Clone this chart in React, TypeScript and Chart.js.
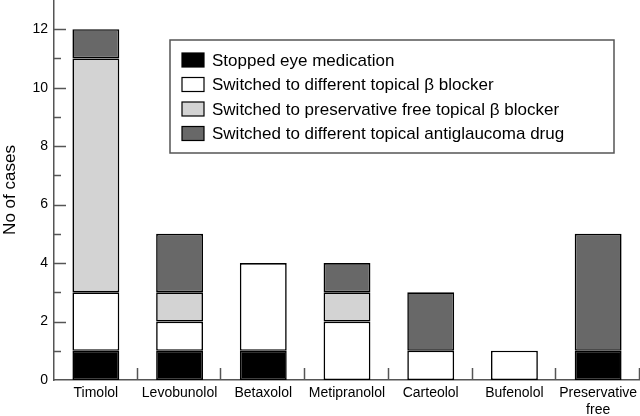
import React, { useEffect, useRef } from "react";
import { Chart, registerables } from "chart.js";

Chart.register(...registerables);

const categories: (string | string[])[] = [
  "Timolol",
  "Levobunolol",
  "Betaxolol",
  "Metipranolol",
  "Carteolol",
  "Bufenolol",
  ["Preservative", "free"],
];

const stoppedMedication = [1, 1, 1, 0, 0, 0, 1];
const switchedDifferentBeta = [2, 1, 3, 2, 1, 1, 0];
const switchedPreservativeFree = [8, 1, 0, 1, 0, 0, 0];
const switchedAntiglaucoma = [1, 2, 0, 1, 2, 0, 4];

const seriesLabels = [
  "Stopped eye medication",
  "Switched to different topical β blocker",
  "Switched to preservative free topical β blocker",
  "Switched to different topical antiglaucoma drug",
];
const seriesColors = ["#000000", "#ffffff", "#d3d3d3", "#686868"];

const yAxisTitle = "No of cases";
const yMin = 0;
const yMax = 13;
const yLabelledTicks = [0, 2, 4, 6, 8, 10, 12];

const FONT = "'Liberation Sans', Arial, Helvetica, sans-serif";
const AXIS_COLOR = "#555555";

const innerTicksPlugin = {
  id: "innerTicks",
  afterDraw(chart: any) {
    const { ctx, chartArea, scales } = chart;
    const y = scales.y;
    const x = scales.x;
    ctx.save();
    ctx.strokeStyle = AXIS_COLOR;
    ctx.lineWidth = 1.5;
    for (let v = yMin + 1; v < yMax; v++) {
      const py = Math.round(y.getPixelForValue(v)) + 0.5;
      const len = yLabelledTicks.includes(v) ? 12 : 7;
      ctx.beginPath();
      ctx.moveTo(chartArea.left, py);
      ctx.lineTo(chartArea.left + len, py);
      ctx.stroke();
    }
    const step = x.getPixelForValue(1) - x.getPixelForValue(0);
    for (let i = 0; i < categories.length; i++) {
      const px = Math.round(x.getPixelForValue(i) + step / 2) - 0.5;
      ctx.beginPath();
      ctx.moveTo(px, chartArea.bottom);
      ctx.lineTo(px, chartArea.bottom - 12);
      ctx.stroke();
    }
    ctx.restore();
  },
};

const boxLegendPlugin = {
  id: "boxLegend",
  afterDraw(chart: any, _args: any, opts: any) {
    const { ctx } = chart;
    const { left, top, width, height, rowStart, rowGap, swatchX, swatchW, swatchH, textX } = opts;
    ctx.save();
    ctx.fillStyle = "#ffffff";
    ctx.fillRect(left, top, width, height);
    ctx.strokeStyle = AXIS_COLOR;
    ctx.lineWidth = 1.5;
    ctx.strokeRect(left, top, width, height);
    ctx.font = `17px ${FONT}`;
    ctx.textBaseline = "middle";
    chart.data.datasets.forEach((ds: any, i: number) => {
      const cy = rowStart + i * rowGap;
      ctx.fillStyle = ds.backgroundColor;
      ctx.fillRect(swatchX, cy - swatchH / 2, swatchW, swatchH);
      ctx.strokeStyle = "#000000";
      ctx.lineWidth = 1.2;
      ctx.strokeRect(swatchX, cy - swatchH / 2, swatchW, swatchH);
      ctx.fillStyle = "#000000";
      ctx.fillText(ds.label, textX, cy + 1);
    });
    ctx.restore();
  },
};

export default function App() {
  const canvasRef = useRef<HTMLCanvasElement | null>(null);

  useEffect(() => {
    document.body.style.margin = "0";
    const canvas = canvasRef.current;
    if (!canvas) return;
    const seriesData = [
      stoppedMedication,
      switchedDifferentBeta,
      switchedPreservativeFree,
      switchedAntiglaucoma,
    ];
    const chart = new Chart(canvas, {
      type: "bar",
      data: {
        labels: categories as any,
        datasets: seriesData.map((d, i) => ({
          label: seriesLabels[i],
          data: d,
          backgroundColor: seriesColors[i],
          borderColor: "#000000",
          borderWidth: 1.6,
          borderSkipped: false,
          categoryPercentage: 1,
          barPercentage: 0.56,
        })),
      },
      options: {
        animation: false,
        responsive: false,
        maintainAspectRatio: false,
        devicePixelRatio: 1,
        layout: { padding: { left: 0, right: 0, top: 0, bottom: 0 } },
        plugins: {
          legend: { display: false },
          tooltip: { enabled: false },
          boxLegend: {
            left: 170,
            top: 40,
            width: 444,
            height: 113,
            rowStart: 60,
            rowGap: 24.5,
            swatchX: 182,
            swatchW: 22,
            swatchH: 14,
            textX: 212,
          },
        } as any,
        scales: {
          x: {
            stacked: true,
            offset: true,
            grid: { display: false, drawTicks: false },
            border: { display: true, color: AXIS_COLOR, width: 1.5 },
            ticks: {
              color: "#000000",
              font: { family: FONT, size: 14 },
              padding: 5,
              maxRotation: 0,
              autoSkip: false,
            },
            afterFit: (s: any) => {
              s.height = 36;
              s.paddingLeft = 0;
              s.paddingRight = 0;
            },
          },
          y: {
            stacked: true,
            min: yMin,
            max: yMax,
            grid: { display: false, drawTicks: false },
            border: { display: true, color: AXIS_COLOR, width: 1.5 },
            ticks: {
              stepSize: 1,
              color: "#000000",
              font: { family: FONT, size: 14 },
              padding: 6,
              callback: (v: any) => (yLabelledTicks.includes(Number(v)) ? String(v) : null),
            },
            title: {
              display: true,
              text: yAxisTitle,
              color: "#000000",
              font: { family: FONT, size: 17 },
              padding: 0,
            },
            afterFit: (s: any) => {
              s.width = 54;
              s.paddingTop = 0;
              s.paddingBottom = 0;
            },
          },
        },
      },
      plugins: [innerTicksPlugin, boxLegendPlugin],
    });
    return () => chart.destroy();
  }, []);

  return (
    <div style={{ position: "absolute", left: 0, top: 0, width: 640, height: 416 }}>
      <canvas ref={canvasRef} width={640} height={416} />
    </div>
  );
}
